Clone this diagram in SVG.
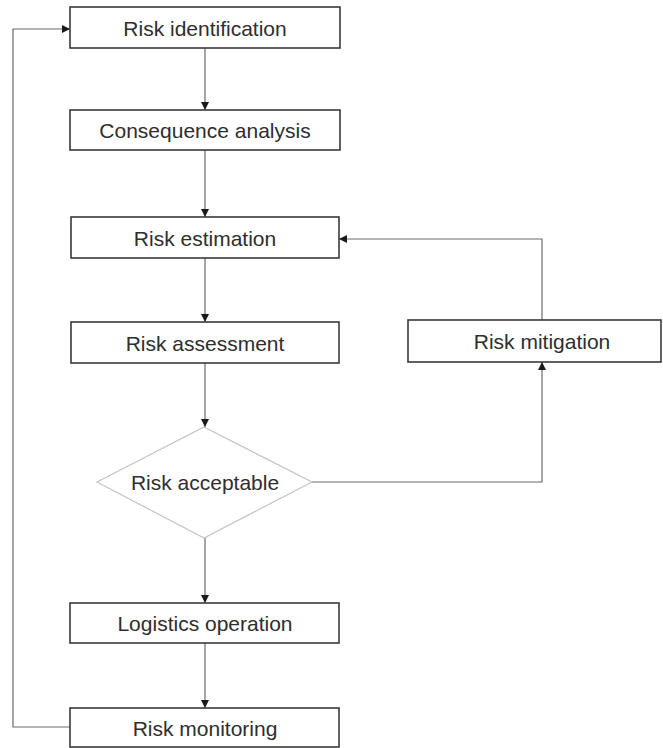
<svg xmlns="http://www.w3.org/2000/svg" width="663" height="748" viewBox="0 0 663 748">
<style>
.box{fill:#fff;stroke:#3a3a3a;stroke-width:1.6}
.dia{fill:#fff;stroke:#c4c4c4;stroke-width:1.2}
.lbl{font-family:"Liberation Sans",Arial,sans-serif;font-size:21px;fill:#2e2e2e;text-anchor:middle;dominant-baseline:central}
.con{fill:none;stroke:#6a6a6a;stroke-width:1.2}
</style>
<defs>
<marker id="ah" markerWidth="10" markerHeight="10" refX="9" refY="5" orient="auto" markerUnits="userSpaceOnUse">
<path d="M1,1 L9,5 L1,9 Z" fill="#1a1a1a"/>
</marker>
</defs>
<rect width="663" height="748" fill="#fff"/>
<g id="connectors">
<path class="con" d="M205,48 V110" marker-end="url(#ah)"/>
<path class="con" d="M205,150 V217" marker-end="url(#ah)"/>
<path class="con" d="M205,258 V322" marker-end="url(#ah)"/>
<path class="con" d="M205,363 V427" marker-end="url(#ah)"/>
<path class="con" d="M205,538 V603" marker-end="url(#ah)"/>
<path class="con" d="M205,643 V708" marker-end="url(#ah)"/>
<path class="con" d="M312,482 H542 V362" marker-end="url(#ah)"/>
<path class="con" d="M542,320 V239 H339" marker-end="url(#ah)"/>
<path class="con" d="M70,727 H13 V29 H70" marker-end="url(#ah)"/>
</g>
<g id="n1"><rect class="box" x="70" y="7" width="270" height="41"/><text class="lbl" x="205" y="28">Risk identification</text></g>
<g id="n2"><rect class="box" x="70" y="110" width="270" height="40"/><text class="lbl" x="205" y="130">Consequence analysis</text></g>
<g id="n3"><rect class="box" x="71" y="217" width="268" height="41"/><text class="lbl" x="205" y="238">Risk estimation</text></g>
<g id="n4"><rect class="box" x="71" y="322" width="268" height="41"/><text class="lbl" x="205" y="343">Risk assessment</text></g>
<g id="n5"><rect class="box" x="408" y="320" width="253" height="42"/><text class="lbl" x="542" y="341">Risk mitigation</text></g>
<g id="n6"><polygon class="dia" points="204,427 312,482 204,538 97,482"/><text class="lbl" x="205" y="482">Risk acceptable</text></g>
<g id="n7"><rect class="box" x="70" y="603" width="269" height="40"/><text class="lbl" x="205" y="623">Logistics operation</text></g>
<g id="n8"><rect class="box" x="70" y="708" width="269" height="39"/><text class="lbl" x="205" y="728">Risk monitoring</text></g>
</svg>
